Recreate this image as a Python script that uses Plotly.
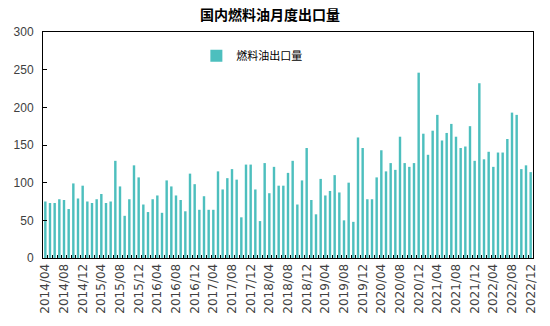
import plotly.graph_objects as go

# Months 2014/04 .. 2022/12
months = []
y, m = 2014, 4
while (y, m) <= (2022, 12):
    months.append(f"{y}/{m:02d}")
    m += 1
    if m > 12:
        m = 1
        y += 1

export_volume = [
    75, 73, 73, 78, 77, 65, 99, 79, 96, 75,
    73, 78, 85, 73, 75, 129, 95, 56, 78, 123,
    107, 71, 61, 78, 83, 60, 103, 95, 83, 77,
    62, 112, 98, 64, 82, 64, 64, 115, 91, 106,
    118, 104, 54, 124, 124, 91, 49, 126, 86, 121,
    96, 96, 113, 129, 71, 103, 146, 77, 58, 105,
    83, 89, 110, 87, 50, 100, 48, 160, 146, 78,
    78, 107, 143, 115, 126, 117, 161, 126, 121, 126,
    246, 165, 137, 169, 190, 156, 166, 178, 161, 146,
    148, 175, 129, 232, 131, 141, 121, 140, 140, 158,
    193, 190, 118, 123, 114,
]

tick_text = [mo if i % 4 == 0 else "" for i, mo in enumerate(months)]

fig = go.Figure()
fig.add_trace(go.Bar(
    x=months, y=export_volume, name="燃料油出口量",
    marker=dict(color="#4DBFBE", line=dict(width=0)),
))

fig.update_layout(
    width=550, height=326,
    margin=dict(l=43, r=12, t=32, b=68),
    paper_bgcolor="white", plot_bgcolor="white",
    bargap=0.48,
    font=dict(family="Liberation Sans, Arial, sans-serif", size=12, color="#404040"),
    title=dict(
        text="<b>国内燃料油月度出口量</b>",
        x=0.491, xanchor="center", y=1 - 15 / 326, yanchor="middle",
        font=dict(family="Noto Sans CJK SC, sans-serif", size=14, color="#000000"),
    ),
    showlegend=True,
    legend=dict(
        x=0.313, y=0.895, xanchor="left", yanchor="middle",
        bgcolor="rgba(0,0,0,0)", itemwidth=30,
        font=dict(family="Noto Sans CJK SC, sans-serif", size=11, color="#000000"),
    ),
)

fig.update_xaxes(
    type="category",
    tickmode="array", tickvals=months, ticktext=tick_text,
    tickangle=-90, tickson="boundaries",
    ticks="inside", ticklen=3, tickcolor="black",
    showline=True, linecolor="black", linewidth=1, mirror=True,
    showgrid=False,
    tickfont=dict(family="DejaVu Sans, sans-serif", size=12, color="#404040"),
)
fig.update_yaxes(
    range=[0, 300], dtick=50,
    ticks="inside", ticklen=4, tickcolor="black",
    showline=True, linecolor="black", linewidth=1, mirror=True,
    showgrid=False, zeroline=False,
    ticklabelstandoff=6,
    tickfont=dict(size=12, color="#404040"),
)

fig.write_html("out.html")
